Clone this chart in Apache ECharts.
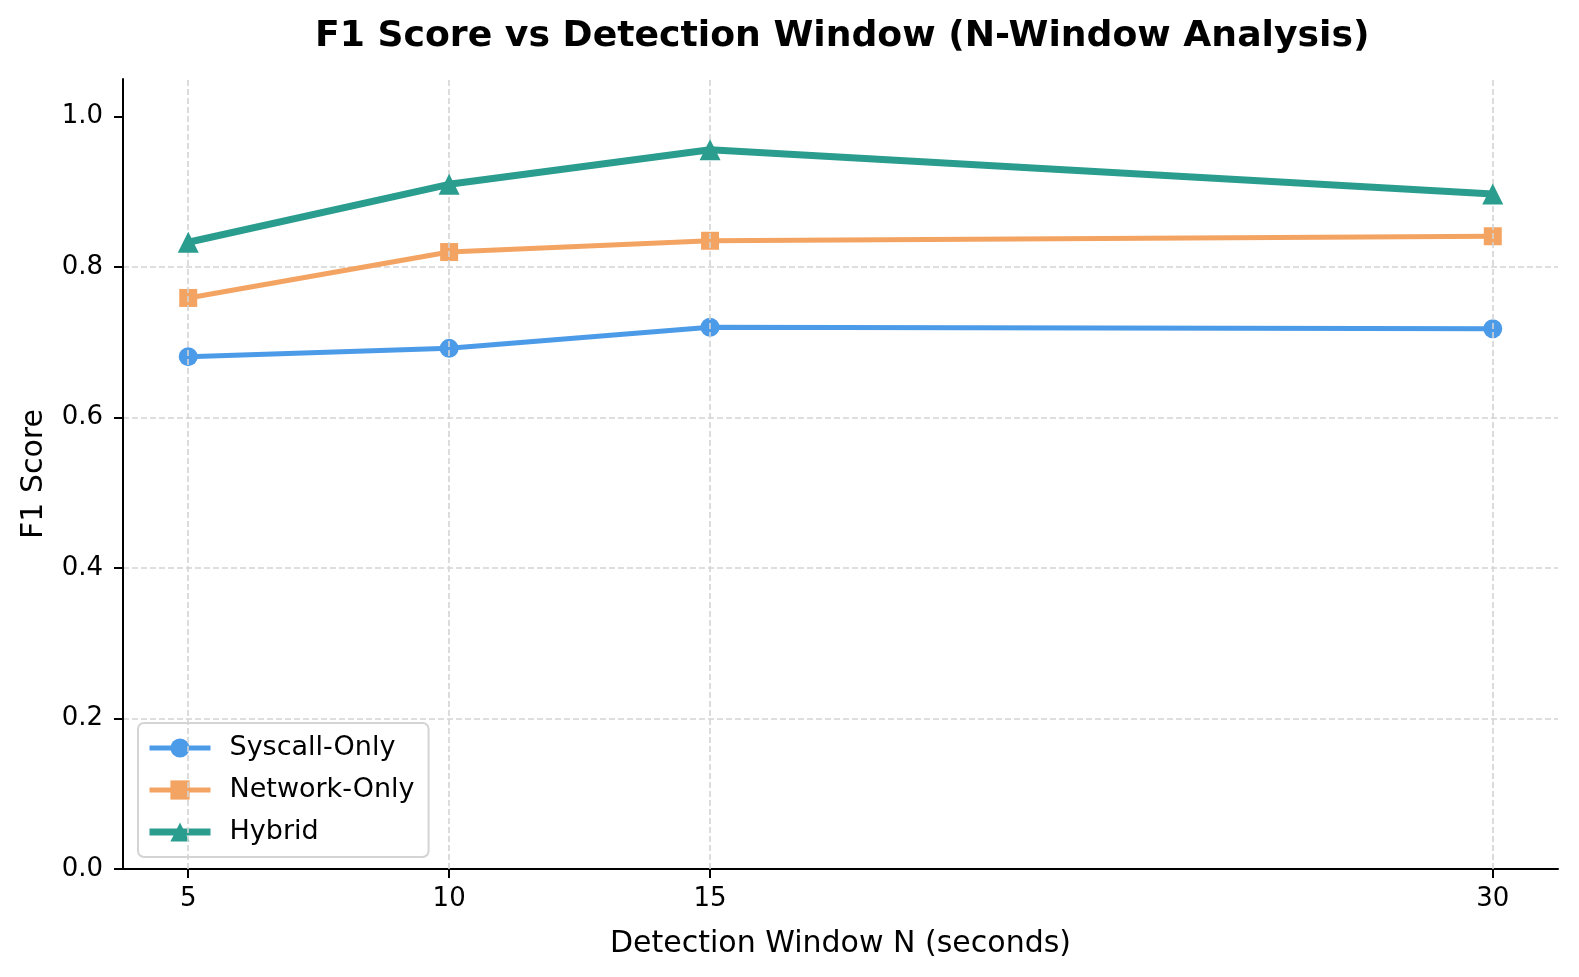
<!DOCTYPE html>
<html>
<head>
<meta charset="utf-8">
<title>F1 Score vs Detection Window</title>
<script src="https://cdn.jsdelivr.net/npm/echarts@6/dist/echarts.min.js"></script>
<style>
  html, body { margin: 0; padding: 0; background: #fff; }
  #main { width: 1579px; height: 977px; }
</style>
</head>
<body>
<div id="main"></div>
<script>
// data
var windows = [5, 10, 15, 30];
var yTicks = [0, 0.2, 0.4, 0.6, 0.8, 1.0];
var syscallF1 = [0.681, 0.692, 0.720, 0.718];
var networkF1 = [0.759, 0.820, 0.835, 0.841];
var hybridF1 = [0.833, 0.910, 0.956, 0.897];

var font = 'DejaVu Sans';
var gridLine = { color: '#d4d4d4', width: 1.6, type: [6, 3] };

function pairs(vals) {
    var out = [];
    for (var i = 0; i < windows.length; i++) {
        out.push([windows[i], vals[i]]);
    }
    return out;
}

// vertical dashed grid only at the tick positions
var vGrid = [];
for (var i = 0; i < windows.length; i++) {
    vGrid.push({ xAxis: windows[i] });
}

var myChart = echarts.init(document.getElementById('main'), null, { renderer: 'canvas' });

var option = {
    animation: false,
    backgroundColor: '#ffffff',
    textStyle: { fontFamily: font },
    title: {
        text: 'F1 Score vs Detection Window (N-Window Analysis)',
        left: 315,
        top: 19,
        padding: 0,
        textStyle: { fontFamily: font, fontSize: 36.2, fontWeight: 'bold', color: '#000' }
    },
    legend: {
        orient: 'vertical',
        left: 138,
        top: 723,
        padding: [10, 14, 10, 8],
        itemWidth: 61,
        itemHeight: 24,
        itemGap: 12,
        backgroundColor: 'rgba(255,255,255,0.8)',
        borderColor: '#d4d4d4',
        borderWidth: 2,
        borderRadius: 6,
        textStyle: { fontFamily: font, fontSize: 27, color: '#000', lineHeight: 30, padding: [0, 0, 0, 14] },
        data: [
            { name: 'Syscall-Only', lineStyle: { width: 5 } },
            { name: 'Network-Only', lineStyle: { width: 5 } },
            { name: 'Hybrid', lineStyle: { width: 7 } }
        ]
    },
    grid: {
        left: 123,
        right: 21,
        top: 79,
        bottom: 108,
        containLabel: false
    },
    xAxis: {
        type: 'value',
        min: 3.75,
        max: 31.25,
        name: 'Detection Window N (seconds)',
        nameLocation: 'middle',
        nameGap: 60,
        nameTextStyle: { fontFamily: font, fontSize: 30, color: '#000' },
        axisLine: { show: true, onZero: false, lineStyle: { color: '#000', width: 2 } },
        axisTick: { show: true, length: 9, lineStyle: { color: '#000', width: 2 }, customValues: windows },
        axisLabel: { fontFamily: font, fontSize: 26, color: '#000', margin: 17, customValues: windows },
        splitLine: { show: false }
    },
    yAxis: {
        type: 'value',
        min: 0,
        max: 1.05,
        interval: 0.2,
        name: 'F1 Score',
        nameLocation: 'middle',
        nameRotate: 90,
        nameGap: 74,
        nameTextStyle: { fontFamily: font, fontSize: 30, color: '#000' },
        axisLine: { show: true, lineStyle: { color: '#000', width: 2 } },
        axisTick: { show: true, length: 9, lineStyle: { color: '#000', width: 2 }, customValues: yTicks },
        axisLabel: {
            fontFamily: font, fontSize: 26, color: '#000', margin: 20,
            customValues: yTicks,
            formatter: function (v) { return v.toFixed(1); }
        },
        splitLine: {
            show: true,
            showMinLine: false,
            showMaxLine: false,
            lineStyle: gridLine
        }
    },
    series: [
        {
            name: 'grid',
            type: 'line',
            data: [],
            z: 1,
            silent: true,
            markLine: {
                silent: true,
                symbol: ['none', 'none'],
                label: { show: false },
                lineStyle: gridLine,
                data: vGrid
            }
        },
        {
            name: 'Syscall-Only',
            type: 'line',
            data: pairs(syscallF1),
            symbol: 'circle',
            symbolSize: 19,
            color: '#4C9BE8',
            lineStyle: { width: 5, color: '#4C9BE8' },
            itemStyle: { color: '#4C9BE8', borderWidth: 0 },
            z: 3
        },
        {
            name: 'Network-Only',
            type: 'line',
            data: pairs(networkF1),
            symbol: 'rect',
            symbolSize: 18,
            color: '#F4A462',
            lineStyle: { width: 5, color: '#F4A462' },
            itemStyle: { color: '#F4A462', borderWidth: 0 },
            z: 4
        },
        {
            name: 'Hybrid',
            type: 'line',
            data: pairs(hybridF1),
            symbol: 'triangle',
            symbolSize: 21,
            color: '#2A9D8F',
            lineStyle: { width: 7, color: '#2A9D8F' },
            itemStyle: { color: '#2A9D8F', borderWidth: 0 },
            z: 5
        }
    ]
};

if (option && typeof option === 'object') {
    myChart.setOption(option, true);
}
</script>
</body>
</html>
